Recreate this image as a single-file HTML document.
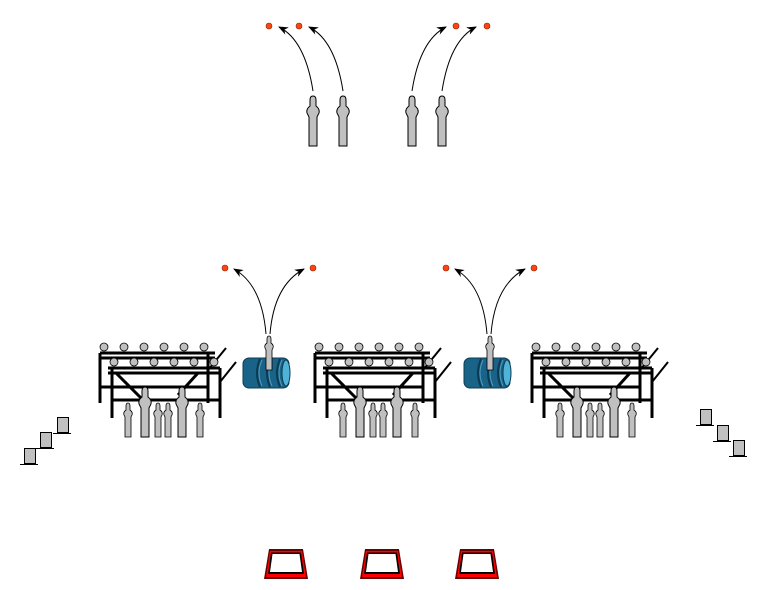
<!DOCTYPE html>
<html><head><meta charset="utf-8"><style>html,body{margin:0;padding:0;background:#fff}svg{display:block}</style></head>
<body>
<svg width="776" height="590" viewBox="0 0 776 590" xmlns="http://www.w3.org/2000/svg">
<defs>
<marker id="ah" markerWidth="10" markerHeight="8" refX="9" refY="4" orient="auto" markerUnits="userSpaceOnUse">
<path d="M0,0 L10,4 L0,8 L3,4 z" fill="#000"/>
</marker>
<g id="person">
<path d="M-3,0 Q-3,-4 0,-4 Q3,-4 3,0 L3,6 Q7,9 6,13 L4,17 L4,46 L-4,46 L-4,17 L-6,13 Q-7,9 -3,6 z" fill="#c0c0c0" stroke="#000" stroke-width="1"/>
</g>
<g id="sperson">
<path d="M-2,0 Q-2,-3 0,-3 Q2,-3 2,0 L2,4 Q5,6 4,9 L3,11 L3,31 L-3,31 L-3,11 L-4,9 Q-5,6 -2,4 z" fill="#c0c0c0" stroke="#000" stroke-width="0.8"/>
</g>
<g id="table">
<g stroke="#000" stroke-width="3" fill="none">
<line x1="2" y1="23" x2="117" y2="23"/>
<line x1="2" y1="28" x2="117" y2="28"/>
<line x1="2" y1="23" x2="2" y2="73"/>
<line x1="110" y1="23" x2="110" y2="73"/>
<line x1="10" y1="38" x2="122" y2="38"/>
<line x1="10" y1="43" x2="122" y2="43"/>
<line x1="14" y1="38" x2="14" y2="88"/>
<line x1="122" y1="38" x2="122" y2="88"/>
<line x1="2" y1="57" x2="110" y2="57"/>
<line x1="14" y1="70" x2="122" y2="70"/>
<line x1="18" y1="43" x2="45" y2="70"/>
<line x1="100" y1="43" x2="80" y2="65"/>
</g>
<g stroke="#000" stroke-width="2">
<line x1="110" y1="40" x2="128" y2="18"/>
<line x1="122" y1="52" x2="138" y2="32"/>
</g>
<g fill="#c0c0c0" stroke="#000" stroke-width="0.8">
<circle cx="6" cy="17" r="4"/><circle cx="26" cy="17" r="4"/><circle cx="46" cy="17" r="4"/><circle cx="66" cy="17" r="4"/><circle cx="86" cy="17" r="4"/><circle cx="106" cy="17" r="4"/>
<circle cx="16" cy="32" r="4"/><circle cx="36" cy="32" r="4"/><circle cx="56" cy="32" r="4"/><circle cx="76" cy="32" r="4"/><circle cx="96" cy="32" r="4"/><circle cx="116" cy="32" r="4"/>
</g>
<use href="#person" x="47" y="61"/>
<use href="#person" x="84" y="61"/>
<use href="#sperson" x="30" y="76"/>
<use href="#sperson" x="60" y="76"/>
<use href="#sperson" x="70" y="76"/>
<use href="#sperson" x="102" y="76"/>
</g>
<g id="drum">
<rect x="0" y="0" width="46" height="30" rx="6" fill="#1a6388" stroke="#0d3c52" stroke-width="1"/>
<path d="M17,1 Q11,15 17,29 M27,1 Q21,15 27,29 M37,1 Q31,15 37,29" stroke="#0c3a50" stroke-width="2" fill="none"/>
<path d="M19,2 Q13,15 19,28 M29,2 Q23,15 29,28 M39,2 Q33,15 39,28" stroke="#4f9cc0" stroke-width="1" fill="none"/>
<ellipse cx="43" cy="15" rx="4" ry="13" fill="#4fb3d8" stroke="#0d3c52" stroke-width="1"/>
<use href="#sperson" x="26" y="-19"/>
</g>
<g id="tray">
<path d="M5,0 L39,0 L44,30 L0,30 z" fill="#6a0000"/>
<path d="M6,2 L38,2 L42,28 L2,28 z" fill="#ff0000"/>
<path d="M7,3.5 L37,3.5 L40,25 L4,25 z" fill="#000"/>
<path d="M8.5,5 L35.5,5 L38,23 L6,23 z" fill="#fff"/>
</g>
</defs>

<use href="#person" x="313" y="100"/>
<use href="#person" x="343" y="100"/>
<use href="#person" x="412" y="100"/>
<use href="#person" x="442" y="100"/>
<g stroke="#000" stroke-width="1" fill="none" marker-end="url(#ah)">
<path d="M313,91 Q305,40 279,27"/>
<path d="M343,91 Q335,40 309,27"/>
<path d="M412,91 Q420,40 446,27"/>
<path d="M442,91 Q450,40 476,27"/>
<path d="M266,334 Q262,285 234,269"/>
<path d="M270,334 Q274,285 304,269"/>
<path d="M487,334 Q483,285 455,269"/>
<path d="M491,334 Q495,285 525,269"/>
</g>
<g fill="#ff4411" stroke="#882200" stroke-width="0.6">
<circle cx="269" cy="26" r="3"/><circle cx="299" cy="26" r="3"/>
<circle cx="456" cy="26" r="3"/><circle cx="487" cy="26" r="3"/>
<circle cx="225" cy="268" r="3"/><circle cx="313" cy="268" r="3"/>
<circle cx="446" cy="268" r="3"/><circle cx="534" cy="268" r="3"/>
</g>

<use href="#table" x="98" y="330"/>
<use href="#table" x="313" y="330"/>
<use href="#table" x="530" y="330"/>
<use href="#drum" x="243" y="358"/>
<use href="#drum" x="464" y="358"/>

<g fill="#c0c0c0" stroke="#000" stroke-width="1">
<rect x="24.5" y="448.5" width="11" height="15"/>
<rect x="40.5" y="432.5" width="11" height="15"/>
<rect x="57.5" y="417.5" width="11" height="15"/>
<rect x="700.5" y="409.5" width="11" height="15"/>
<rect x="717.5" y="425.5" width="11" height="15"/>
<rect x="733.5" y="440.5" width="11" height="15"/>
</g>
<g stroke="#000" stroke-width="1">
<line x1="20" y1="464.5" x2="38" y2="464.5"/>
<line x1="36" y1="448.5" x2="54" y2="448.5"/>
<line x1="53" y1="433.5" x2="71" y2="433.5"/>
<line x1="696" y1="425.5" x2="714" y2="425.5"/>
<line x1="713" y1="441.5" x2="731" y2="441.5"/>
<line x1="729" y1="456.5" x2="747" y2="456.5"/>
</g>

<use href="#tray" x="264" y="549"/>
<use href="#tray" x="360" y="549"/>
<use href="#tray" x="455" y="549"/>
</svg>
</body></html>
